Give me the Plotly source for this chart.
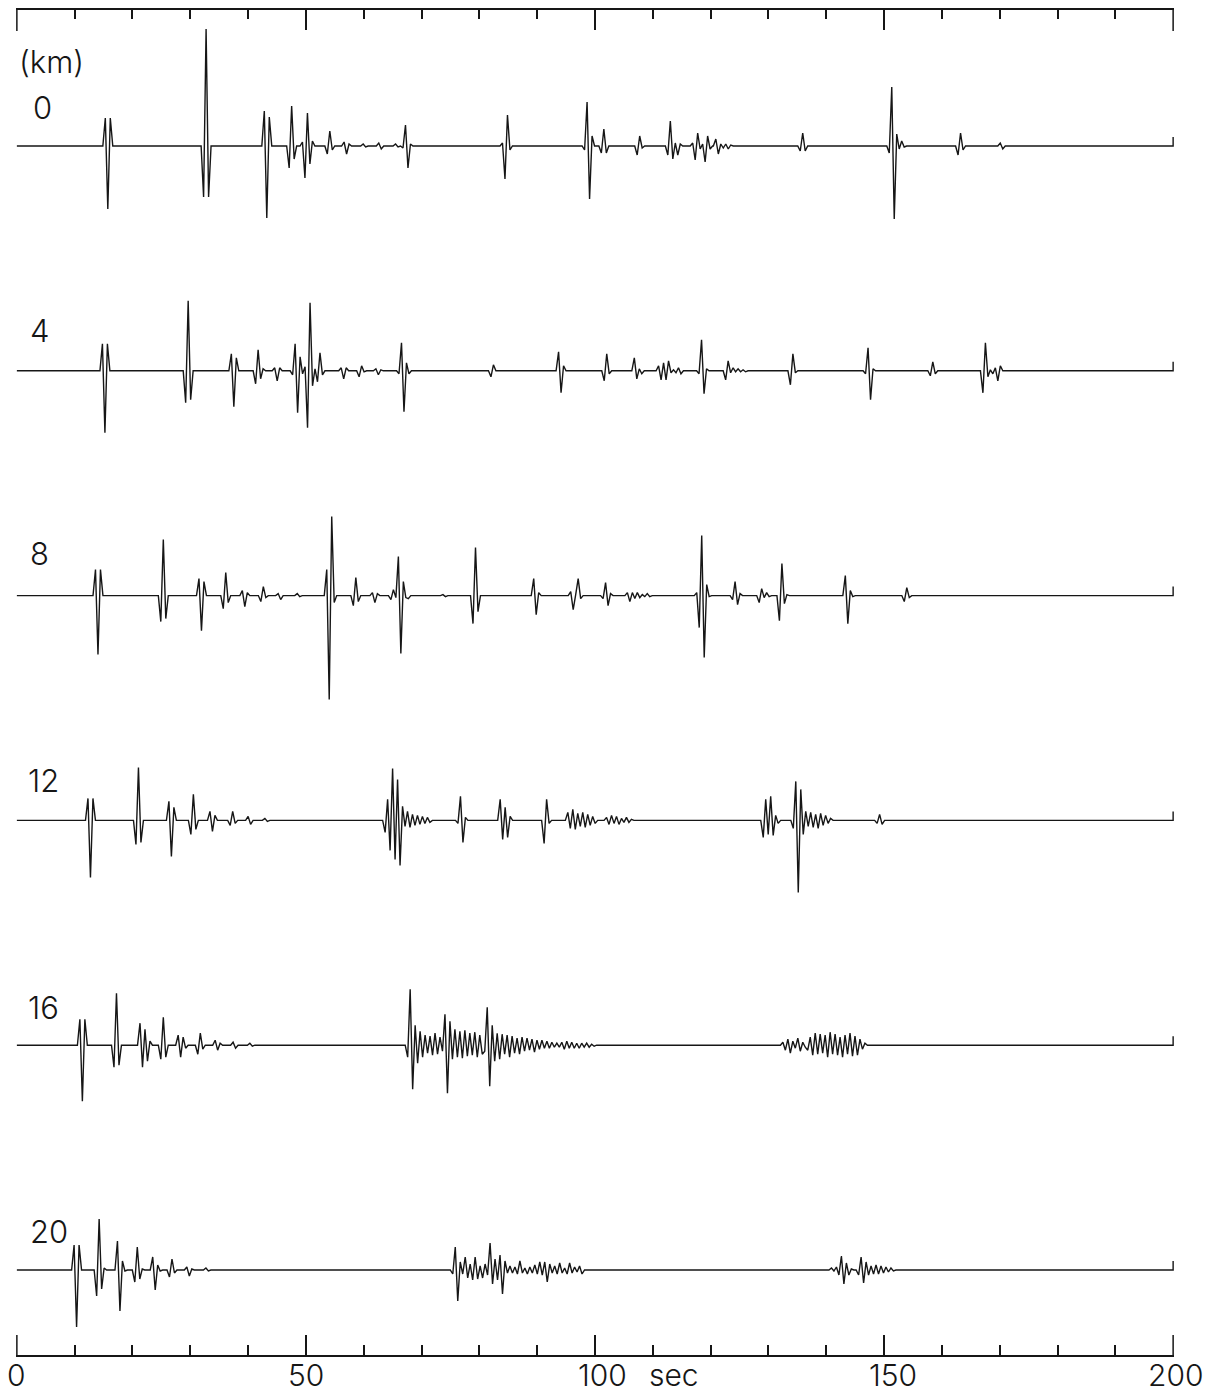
import plotly.graph_objects as go

# ---------------- data ----------------
# each pulse: (start time in sec, successive extremum amplitudes; + = up)
distances_km = [0, 4, 8, 12, 16, 20]
distance_labels = ["0", "4", "8", "12", "16", "20"]
time_ticks = [0, 50, 100, 150, 200]
time_tick_labels = ["0", "50", "100", "150", "200"]

pulses_0km = [
    (15.3, [28, -63, 28]),
    (32.3, [-51, 117, -51]),
    (42.8, [35, -72, 29]),
    (47.1, [-22, 40, -13]),
    (49.4, [4, -32, 33, -18, 5]),
    (53.7, [-8, 15, -4]),
    (56.6, [4, -8, 2]),
    (59.9, [2, -1]),
    (62.6, [3, -3]),
    (65.5, [2, -1, 0, -2, 21, -22, 2]),
    (84.0, [3, -33, 31, -4]),
    (98.2, [-4, 44, -53, 10]),
    (101.1, [-7, 17, -7]),
    (107.3, [-9, 10, -2]),
    (112.6, [-9, 25, -13, 3, -9, 2]),
    (116.9, [3, -14, 13, -3, 2, -16, 10, -3]),
    (120.9, [7, -8, 2, -2, 2, -3, 1]),
    (135.5, [-5, 13, -5]),
    (150.9, [-7, 59, -73, 12, -3, 5, -1]),
    (162.8, [-9, 13, -4]),
    (170.1, [3, -3]),
]

pulses_4km = [
    (14.8, [27, -62, 27]),
    (29.2, [-32, 70, -29]),
    (37.1, [17, -36, 13]),
    (41.3, [-13, 21, -8, 2]),
    (44.6, [3, -10, 3]),
    (47.7, [-4, 27, -42, 14, -3, 4, -57, 68, -15, 2, -11, 18, -4]),
    (56.1, [3, -8, 3]),
    (59.2, [-6, 5, -1]),
    (62.1, [2, -4, 1]),
    (66.1, [-3, 28, -41, 8, -3]),
    (82.0, [-6, 6]),
    (93.7, [19, -22, 5]),
    (101.6, [-10, 17, -3]),
    (106.8, [13, -8, 2, -3]),
    (111.0, [5, -9, 8, -9, 10, -2, 1, -2, 3, -3]),
    (118.0, [-3, 31, -23, 2]),
    (122.6, [-9, 10, -2, 3, -1, 2, -1, 1, -1]),
    (133.8, [-14, 17, -2]),
    (146.8, [-3, 23, -29, 2]),
    (158.0, [-5, 9, -3]),
    (167.1, [-22, 28, -6, 1, -3, 3, -10, 5]),
]

pulses_8km = [
    (13.6, [26, -59, 26]),
    (24.9, [-26, 56, -23]),
    (31.5, [17, -35, 14]),
    (35.7, [-13, 23, -7]),
    (39.0, [5, -11, 3]),
    (42.2, [-6, 9, -2]),
    (45.2, [2, -4]),
    (48.5, [2, -1]),
    (53.6, [26, -104, 79, -7]),
    (58.2, [-10, 18, -6]),
    (61.5, [3, -7, 2]),
    (64.7, [-4, 6, -2, 39, -58, 14, -2, -3]),
    (73.7, [1, -1]),
    (78.9, [-28, 48, -16]),
    (89.4, [17, -19, 3]),
    (95.8, [4, -14, 1, 17, -3]),
    (101.4, [-3, 13, -10, 2]),
    (105.6, [3, -6, 3, -3, 3, -2, 1, -1, 2, -1]),
    (117.6, [3, -32, 60, -62, 11, -1]),
    (123.8, [-4, 14, -9, 2]),
    (128.4, [-7, 7, -2, 3, -1]),
    (131.9, [-25, 32, -8, 1]),
    (143.3, [20, -28, 5, -1]),
    (153.5, [-6, 8, -2]),
]

pulses_12km = [
    (12.3, [22, -57, 22]),
    (20.6, [-24, 53, -22]),
    (26.3, [19, -36, 13]),
    (30.1, [-14, 26, -9]),
    (33.4, [9, -11, 5]),
    (36.9, [-5, 9, -3]),
    (40.0, [4, -4]),
    (42.9, [2, -1]),
    (63.7, [-12, 21, -30, 52, -39, 41, -45, 14, -6, 9, -7, 6, -5, 5, -4, 4, -3, 3, -2]),
    (76.3, [-3, 24, -22, 3]),
    (83.6, [21, -19, 13, -17, 4]),
    (91.2, [-23, 21, -3]),
    (95.3, [8, -8, 11, -9, 7, -6, 8, -7, 6, -5, 4, -3]),
    (102.0, [3, -4, 5, -3, 4, -4, 2, -2, 3, -2, 1]),
    (129.1, [-17, 21, -14, 24, -15, 5, -3]),
    (134.3, [-8, 39, -72, 31, -14, 9, -6, 8, -7, 6, -8, 7, -5, 5, -3, 2]),
    (148.8, [-3, 6, -4]),
]

pulses_16km = [
    (10.9, [26, -56, 26]),
    (16.8, [-22, 52, -20]),
    (21.3, [22, -22, 16, -16, 4]),
    (24.9, [-14, 28, -12]),
    (27.9, [10, -12, 8, -3]),
    (31.3, [-9, 12, -4]),
    (34.3, [5, -5, 2]),
    (37.4, [3, -3]),
    (40.3, [2, -1]),
    (67.6, [-12, 56, -44, 20, -18, 14, -12, 10, -8, 9, -10, 12, -9, 8,
            -6, 31, -48, 24, -14, 16, -12, 14, -13, 15, -11, 12, -10, 13, -12, 10, -9,
            -6, 38, -41, 20, -16, 12, -14, 11, -9, 10, -12, 9, -8, 7, -9, 8, -6, 7,
            -5, 6, -7, 5, -4, 5, -3, 4, -3, 3, -2, 2, -2,
            3, -4, 4, -3, 3, -3, 2, -3, 2, -2, 2, -2, 1, -1]),
    (132.5, [3, -5, 6, -8, 4, -3, 7, -6, 3, -2,
             -5, 8, -10, 12, -9, 11, -8, 10, -12, 13, -9, 11, -10, 8, -12, 10, -9, 12,
             -11, 9, -10, 6, -4, 2]),
]

pulses_20km = [
    (9.9, [25, -57, 25]),
    (13.8, [-26, 51, -19, 2]),
    (17.4, [29, -41, 9, -1]),
    (20.4, [-12, 23, -9, 1]),
    (23.5, [13, -20, 5, -1]),
    (26.4, [-7, 11, -3]),
    (29.4, [3, -6, 1]),
    (32.7, [2, -1]),
    (75.4, [-4, 23, -31, 8, -4, 13, -8, 6, -10, 13, -9, 4, -8, 6, -5, 27, -14, 11,
            -10, 15, -24, 9, -3, 4,
            -3, 3, -4, 9, -3, 2, -4, 3, -3, 5, -4, 8, -5, 8, -12, 6, -3, 4, -4, 7,
            -3, 2, -4, 7, -3, 3, -2, 4, -4]),
    (140.9, [2, -1, 3, -5, 14, -14, 7, -5, 1]),
    (145.6, [-5, 13, -13, 8, -5, 4, -4, 5, -4, 4, -3, 3, -2, 2, -1]),
]

all_pulses = [pulses_0km, pulses_4km, pulses_8km, pulses_12km, pulses_16km, pulses_20km]

# ---------------- style / layout constants ----------------
STEP = 0.43            # sec between successive extrema of a wiggle
PX_PER_KM = 56.2       # vertical spacing of traces in screen px per km
END_TICK_PX = 9        # little upward hook at the end of each trace
INK = "#161616"
FONT = "Inter"
PAD = 0.15             # tiny range padding

W, H = 1226, 1394
L, R = 17, 1173        # pixels of x = 0 and x = 200
T, B = 10, 1355        # plot area y pixels
Y0 = 146               # pixel of the 0 km baseline
SEC_PX = (R - L) / 200.0
PL = L - PAD * SEC_PX
PR = R + PAD * SEC_PX


def amp_to_km(a):
    return a / PX_PER_KM


def build(pulses, base_km):
    xs, ys = [0.0], [base_km]
    for t0, amps in pulses:
        xs.append(t0 - STEP)
        ys.append(base_km)
        for i, a in enumerate(amps):
            xs.append(t0 + i * STEP)
            ys.append(base_km - amp_to_km(a))
        xs.append(t0 + len(amps) * STEP)
        ys.append(base_km)
    xs += [200.0, 200.0]
    ys += [base_km, base_km - amp_to_km(END_TICK_PX)]
    return xs, ys


fig = go.Figure()
for km, pulses in zip(distances_km, all_pulses):
    xs, ys = build(pulses, km)
    fig.add_trace(go.Scatter(x=xs, y=ys, mode="lines",
                             line=dict(color=INK, width=1.4),
                             hoverinfo="skip", showlegend=False))

# dummy trace for the top axis
fig.add_trace(go.Scatter(x=[0, 200], y=[None, None], xaxis="x2", yaxis="y",
                         showlegend=False, hoverinfo="skip"))

y_top_km = (T - Y0) / PX_PER_KM
y_bot_km = (B - Y0) / PX_PER_KM


def pxx(px):
    return (px - PL) / (PR - PL)


def pxy(py):
    return (B - py) / (B - T)


label_font = dict(family=FONT, size=31, color=INK, weight=300)
annotations = []
# distance labels
label_px = {"0": (31, 107), "4": (28, 330), "8": (28, 553), "12": (26, 780),
            "16": (26, 1007), "20": (28, 1231)}
for lab in distance_labels:
    px, py = label_px[lab]
    annotations.append(dict(text=lab, xref="paper", yref="paper",
                            x=pxx(px), y=pxy(py),
                            xanchor="left", yanchor="middle", showarrow=False,
                            font=label_font))
annotations.append(dict(text="(km)", xref="paper", yref="paper",
                        x=pxx(17), y=pxy(61), xanchor="left", yanchor="middle",
                        showarrow=False, font=label_font))
# time tick labels
tick_font = dict(family=FONT, size=30, color=INK, weight=300)
tick_label_px = {"0": 17, "50": 306, "100": 602, "150": 893, "200": 1175}
for v, lab in zip(time_ticks, time_tick_labels):
    annotations.append(dict(text=lab, xref="paper", yref="paper",
                            x=pxx(tick_label_px[lab]), y=pxy(1375),
                            xanchor="center", yanchor="middle", showarrow=False,
                            font=tick_font))
annotations.append(dict(text="sec", xref="paper", yref="paper",
                        x=pxx(647), y=pxy(1375),
                        xanchor="left", yanchor="middle", showarrow=False,
                        font=tick_font))

# end ticks of the two time axes (plotly omits ticks sitting on the range edge)
shapes = []
for xv in (0, 200):
    shapes.append(dict(type="line", xref="x", yref="paper",
                       x0=xv, x1=xv, y0=0, y1=20 / (B - T),
                       line=dict(color=INK, width=1.5)))
    shapes.append(dict(type="line", xref="x", yref="paper",
                       x0=xv, x1=xv, y0=1, y1=1 - 21 / (B - T),
                       line=dict(color=INK, width=1.5)))

axis_common = dict(range=[-PAD, 200 + PAD], showgrid=False, zeroline=False,
                   showline=True, linecolor=INK, linewidth=1.5,
                   ticks="inside", tickcolor=INK, tickwidth=1.5,
                   tickmode="array", tickvals=time_ticks, showticklabels=False)

fig.update_layout(
    width=W, height=H,
    margin=dict(l=PL, r=W - PR, t=T, b=H - B),
    paper_bgcolor="white", plot_bgcolor="white",
    xaxis=dict(**axis_common, ticklen=20,
               minor=dict(ticks="inside", ticklen=10, dtick=10, tick0=0,
                          tickcolor=INK, tickwidth=1.5, showgrid=False)),
    xaxis2=dict(**axis_common, overlaying="x", side="top", ticklen=20,
                minor=dict(ticks="inside", ticklen=9, dtick=10, tick0=0,
                           tickcolor=INK, tickwidth=1.5, showgrid=False)),
    yaxis=dict(range=[y_bot_km, y_top_km], showgrid=False, zeroline=False,
               showline=False, showticklabels=False, ticks=""),
    annotations=annotations,
    shapes=shapes,
    showlegend=False,
)

fig.write_html("out.html")
